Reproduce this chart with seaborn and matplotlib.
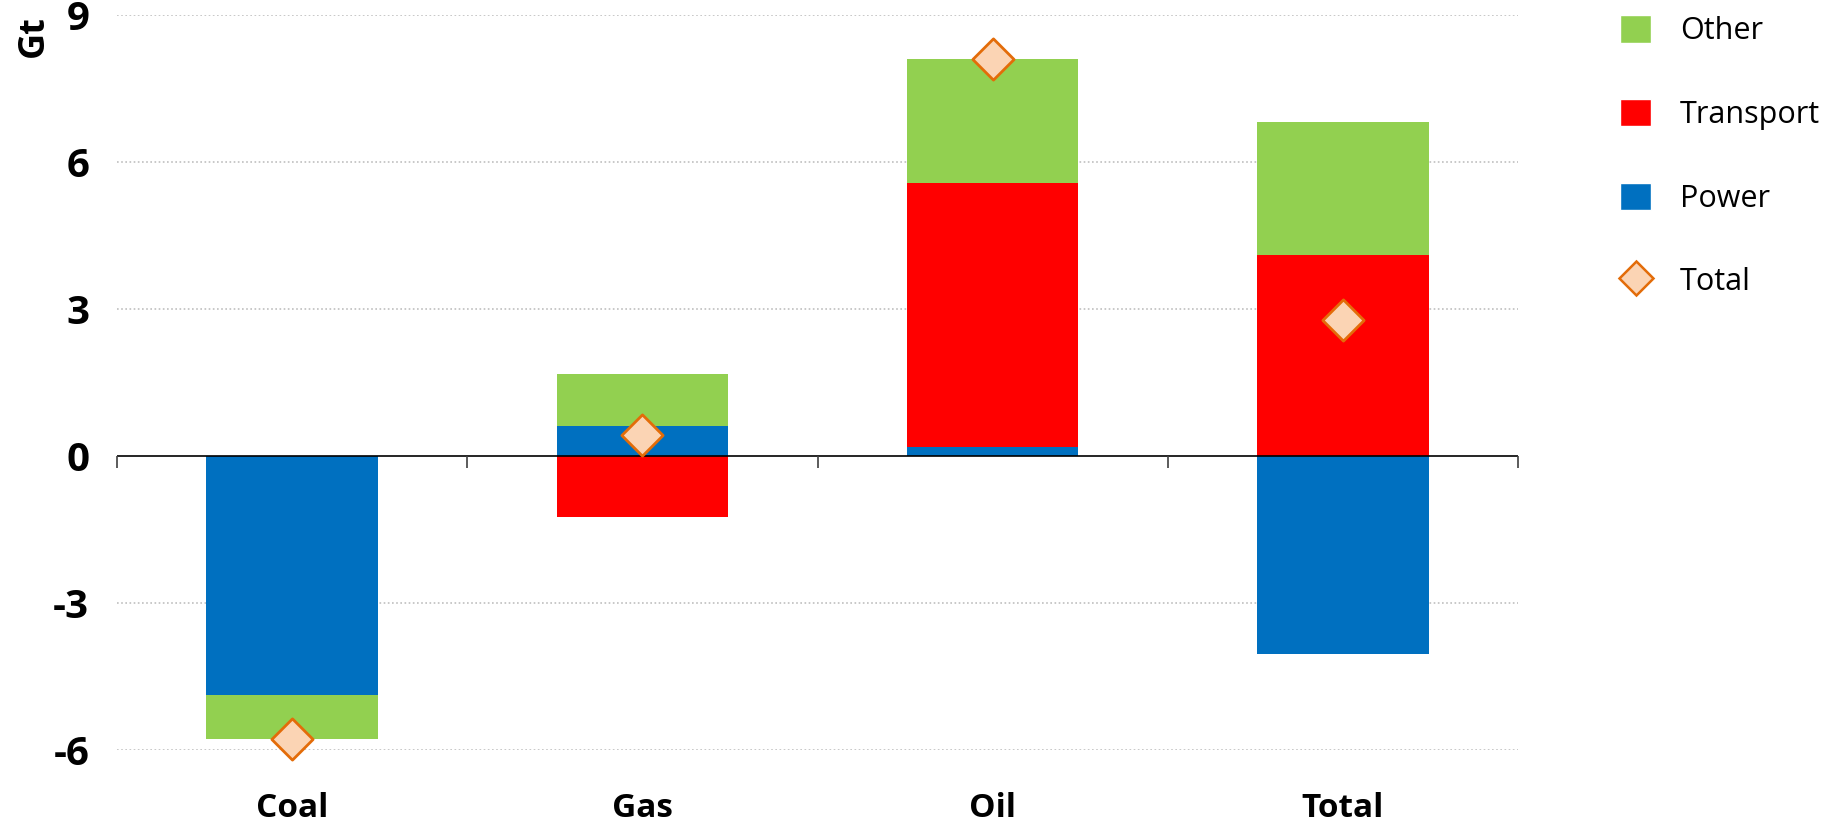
import numpy as np
import pandas as pd
import matplotlib
matplotlib.use("Agg")
import matplotlib.pyplot as plt
from matplotlib.patches import Patch
from matplotlib.lines import Line2D
import seaborn as sns

# Change in CO2 emissions by fuel and sector (Gt)
categories = ["Coal", "Gas", "Oil", "Total"]
power = [-4.87, 0.62, 0.18, -4.05]
transport = [0.0, -1.25, 5.40, 4.10]
other = [-0.90, 1.05, 2.52, 2.72]
totals = [-5.77, 0.42, 8.10, 2.77]
y_ticks = [-6, -3, 0, 3, 6, 9]

sectors = ["Power", "Transport", "Other"]
colors = {"Power": "#0070C0", "Transport": "#FF0000", "Other": "#92D050"}
values = {"Power": np.array(power), "Transport": np.array(transport), "Other": np.array(other)}

sns.set_theme(style="white")
plt.rcParams["font.family"] = ["Open Sans", "DejaVu Sans"]
plt.rcParams["text.color"] = "black"
plt.rcParams["xtick.color"] = "black"
plt.rcParams["ytick.color"] = "black"

fig = plt.figure(figsize=(18.37, 8.25), dpi=100)
ax = fig.add_axes([117 / 1837, 1 - 750 / 825, (1518 - 117) / 1837, (750 - 15) / 825])

# Stacked bars: positive and negative parts stacked separately from zero,
# drawn outermost level first so inner segments sit on top.
pos_levels, neg_levels = [], []
pos_acc = np.zeros(len(categories))
neg_acc = np.zeros(len(categories))
for s in sectors:
    v = values[s]
    pos_acc = pos_acc + np.clip(v, 0, None)
    neg_acc = neg_acc + np.clip(v, None, 0)
    pos_levels.append((s, pos_acc.copy()))
    neg_levels.append((s, neg_acc.copy()))

for levels in (pos_levels, neg_levels):
    for s, lv in reversed(levels):
        df = pd.DataFrame({"category": categories, "value": lv})
        sns.barplot(data=df, x="category", y="value", color=colors[s],
                    width=0.49, saturation=1, ax=ax, zorder=2, linewidth=0)

# Net totals as diamonds
tdf = pd.DataFrame({"category": categories, "total": totals})
sns.scatterplot(data=tdf, x="category", y="total", marker="D", s=21 ** 2,
                color="#FBD4B4", edgecolor="#E36C09", linewidth=2,
                ax=ax, zorder=5, clip_on=False, legend=False)

ax.set_xlim(-0.5, len(categories) - 0.5)
ax.set_ylim(-6, 9)
ax.set_yticks(y_ticks)
ax.set_yticklabels([str(t) for t in y_ticks], fontsize=29, fontweight="bold")
ax.tick_params(axis="y", length=0, pad=20)
ax.tick_params(axis="x", length=0, pad=30)
ax.set_xticks(range(len(categories)))
ax.set_xticklabels(categories, fontsize=24, fontweight="bold")
ax.set_xlabel("")
ax.set_ylabel("")
for sp in ax.spines.values():
    sp.set_visible(False)

# Dotted gridlines (except the zero line)
for t in y_ticks:
    if t != 0:
        ax.axhline(t, color="#BFBFBF", linestyle=(0, (1, 1.5)), linewidth=1.2, zorder=0)

# Zero axis with category separator ticks
ax.axhline(0, color="black", linewidth=1.2, zorder=3)
ax.vlines(np.arange(-0.5, len(categories)), -0.25, 0, color="#404040",
          linewidth=1.2, zorder=3, clip_on=False)

fig.text(34 / 1837, 1 - 36 / 825, "Gt", rotation=90, fontsize=26,
         fontweight="bold", ha="center", va="center")

handles = [Patch(facecolor=colors["Other"], label="Other"),
           Patch(facecolor=colors["Transport"], label="Transport"),
           Patch(facecolor=colors["Power"], label="Power"),
           Line2D([], [], marker="D", linestyle="none", markersize=17,
                  markerfacecolor="#FBD4B4", markeredgecolor="#E36C09",
                  markeredgewidth=1.8, label="Total")]
fig.legend(handles=handles, loc="upper left", bbox_to_anchor=(1608 / 1837, 1 - 3 / 825),
           frameon=False, fontsize=22, handlelength=1.0, handleheight=1.0,
           handletextpad=0.95, labelspacing=1.72, borderaxespad=0)

fig.savefig("out.png", dpi=100)
